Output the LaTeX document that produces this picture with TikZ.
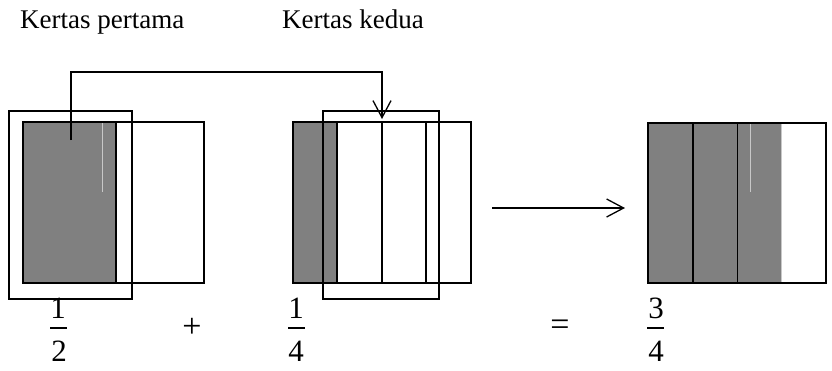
\documentclass[tikz,border=0pt]{standalone}
\usepackage{fontspec}
\setmainfont{Liberation Serif}
\usetikzlibrary{arrows.meta}
\definecolor{panelgray}{RGB}{128,128,128}
\definecolor{lightline}{RGB}{200,200,200}
\tikzset{
  label/.style={font=\fontsize{27}{30}\selectfont, inner sep=0pt, anchor=base west},
  digit/.style={font=\fontsize{31}{34}\selectfont, inner sep=0pt, anchor=base},
  opsign/.style={font=\fontsize{34}{36}\selectfont, inner sep=0pt},
  fbar/.style={fill=black, inner sep=0pt, minimum height=1.4pt, minimum width=17pt},
  outline/.style={draw=black, line width=1.5pt},
  frame/.style={draw=black, line width=1.3pt},
  thickdiv/.style={line width=2pt},
  thindiv/.style={line width=1.6pt},
  hairline/.style={draw=lightline, line width=0.8pt},
  connector/.style={line width=1.3pt, -{Straight Barb[length=17pt,width=18pt,line width=1.3pt]}},
}
\begin{document}
\begin{tikzpicture}[x=1pt,y=-1pt]
\useasboundingbox (0,0) rectangle (832,370);
% titles
\node[label] (t1) at (20,28) {Kertas pertama};
\node[label] (t2) at (282,28) {Kertas kedua};
% square 1
\fill[panelgray] (23,122) rectangle (116,283);
\draw[hairline] (102,123) -- (102,192);
\draw[outline] (23,122) rectangle (204,283);
\draw[thickdiv] (116,122) -- (116,283);
\draw[frame] (9,111) rectangle (132,299);
% square 2
\fill[panelgray] (293,122) rectangle (337,283);
\draw[outline] (293,122) rectangle (471,283);
\draw[thickdiv] (293,122) -- (293,283);
\draw[thickdiv] (337,122) -- (337,283);
\draw[thindiv] (382,122) -- (382,283);
\draw[thindiv] (426,122) -- (426,283);
\draw[frame] (323,111) rectangle (439,299);
% square 3
\fill[panelgray] (648,123) rectangle (781,283);
\draw[hairline] (750,123) -- (750,192);
\draw[hairline] (781,123) -- (781,283);
\draw[outline] (648,123) rectangle (826,283);
\draw[thickdiv] (693,123) -- (693,283);
\draw[line width=0.9pt] (737,123) -- (737,283);
% connector
\coordinate (c0) at (71,140);
\coordinate (ctop) at (71,72);
\coordinate (c1) at (382,119);
\draw[connector] (c0) -- (ctop) -| (c1);
% arrow
\coordinate (a0) at (492,208);
\coordinate (a1) at (625,208);
\draw[connector] (a0) -- (a1);
% fractions
\node[digit] (n1) at (58,318) {1};
\node[fbar] (b1) at (58,328) {};
\node[digit] (d1) at (59,361) {2};
\node[opsign] (plus) at (192,328) {+};
\node[digit] (n2) at (296,318) {1};
\node[fbar] (b2) at (296,328) {};
\node[digit] (d2) at (296,361) {4};
\node[opsign] (eq) at (560,328) {=};
\node[digit] (n3) at (656,318) {3};
\node[fbar] (b3) at (655,328) {};
\node[digit] (d3) at (656,361) {4};
\end{tikzpicture}
\end{document}
